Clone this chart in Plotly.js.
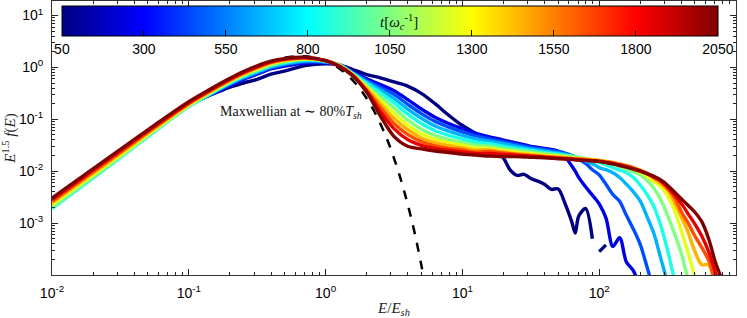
<!DOCTYPE html>
<html><head><meta charset="utf-8">
<script src="https://cdn.plot.ly/plotly-3.0.1.min.js"></script>
<style>html,body{margin:0;padding:0;background:#fff}#chart{width:747px;height:318px}</style>
</head><body><div id="chart"></div>
<script>
// ---- data ----
const times = [50, 250, 450, 650, 850, 1050, 1250, 1450, 1650, 1850, 2050];

const energy = [0.01, 0.0316, 0.0562, 0.1, 0.141, 0.2, 0.251, 0.316, 0.398, 0.5, 0.708, 1, 1.26, 1.58, 2.0, 2.51, 3.16, 3.98, 5.01, 6.31, 7.94, 10, 12.6,
  15.8, 17.8, 20, 22.4, 25.1, 28.2, 31.6, 35.5, 39.8, 44.7, 50.1, 56.2, 63.1, 66.8, 70.8, 79.4, 89.1, 94.4, 100, 112,
  126, 141, 158, 178, 200, 224, 251, 282, 316, 355, 398, 447, 501, 562, 631, 708, 794];

const f_t50 = [0.00295, 0.0257, 0.0724, 0.195, 0.288, 0.417, 0.501, 0.589, 0.741, 0.851, 1.084, 1.175, 1.122, 0.912, 0.724, 0.631, 0.525, 0.437, 0.316, 0.200, 0.120, 0.0759, 0.0525,
  0.0316, 0.0240, 0.0178, 0.0105, 0.00832, 0.00871, 0.00724, 0.00646, 0.00562, 0.00447, 0.00457, 0.00240, 0.00105, 0.000646, 0.00135, 0.00191, 0.000501, null, 0.000282, 0.000380];
const f_t250 = [0.00257, 0.0224, 0.0661, 0.186, 0.292, 0.447, 0.589, 0.741, 0.933, 1.059, 1.216, 1.230, 1.122, 0.813, 0.603, 0.468, 0.355, 0.240, 0.158, 0.110, 0.0832, 0.0661, 0.0537,
  0.0457, 0.0427, 0.0398, 0.0372, 0.0347, 0.0324, 0.0302, 0.0288, 0.0275, 0.0263, 0.0245, 0.0191, 0.0126, 0.0100, 0.00759, 0.00501, 0.00347, 0.00288, 0.00234, 0.00126,
  0.000355, 0.000525, 0.000178, 0.000120, 0.00005];
const f_t450 = [0.00234, 0.0209, 0.0631, 0.182, 0.295, 0.468, 0.617, 0.776, 0.977, 1.122, 1.274, 1.259, 1.122, 0.794, 0.562, 0.417, 0.302, 0.195, 0.129, 0.0912, 0.0708, 0.0575, 0.0479,
  0.0417, 0.0394, 0.0372, 0.0347, 0.0324, 0.0305, 0.0288, 0.0275, 0.0263, 0.0251, 0.0240, 0.0224, 0.0200, 0.0186, 0.0170, 0.0141, 0.0107, 0.00955, 0.00851, 0.00562,
  0.00355, 0.00263, 0.00141, 0.000759, 0.000380, 0.000141, 0.00005];
const f_t650 = [0.00214, 0.0195, 0.0603, 0.178, 0.298, 0.490, 0.646, 0.813, 1.023, 1.175, 1.334, 1.288, 1.122, 0.776, 0.525, 0.372, 0.251, 0.158, 0.105, 0.0741, 0.0589, 0.0490, 0.0417,
  0.0380, 0.0359, 0.0339, 0.0320, 0.0302, 0.0285, 0.0269, 0.0257, 0.0245, 0.0234, 0.0224, 0.0211, 0.0200, 0.0191, 0.0178, 0.0158, 0.0138, 0.0129, 0.0117, 0.0107,
  0.00933, 0.00759, 0.00562, 0.00398, 0.00263, 0.00132, 0.000631, 0.000209, 0.000071];
const f_t850 = [0.00191, 0.0182, 0.0582, 0.178, 0.302, 0.501, 0.668, 0.851, 1.072, 1.230, 1.396, 1.318, 1.122, 0.759, 0.490, 0.324, 0.209, 0.126, 0.0832, 0.0603, 0.0490, 0.0417, 0.0363,
  0.0339, 0.0320, 0.0302, 0.0288, 0.0275, 0.0263, 0.0251, 0.0240, 0.0229, 0.0221, 0.0214, 0.0204, 0.0195, 0.0191, 0.0184, 0.0174, 0.0162, 0.0155, 0.0148, 0.0132,
  0.0117, 0.0105, 0.00933, 0.00759, 0.00537, 0.00355, 0.00209, 0.000891, 0.000302, 0.000079];
const f_t1050 = [0.00204, 0.0191, 0.0603, 0.182, 0.313, 0.525, 0.700, 0.891, 1.122, 1.288, 1.429, 1.334, 1.096, 0.741, 0.447, 0.275, 0.166, 0.0977, 0.0646, 0.0490, 0.0407, 0.0355, 0.0316,
  0.0302, 0.0288, 0.0275, 0.0263, 0.0251, 0.0243, 0.0234, 0.0226, 0.0219, 0.0211, 0.0204, 0.0197, 0.0191, 0.0186, 0.0182, 0.0174, 0.0166, 0.0162, 0.0158, 0.0146,
  0.0135, 0.0123, 0.0110, 0.00977, 0.00851, 0.00661, 0.00468, 0.00282, 0.00141, 0.000631, 0.000263, 0.000079];
const f_t1250 = [0.00224, 0.0204, 0.0631, 0.188, 0.324, 0.543, 0.730, 0.933, 1.169, 1.334, 1.462, 1.349, 1.096, 0.724, 0.417, 0.234, 0.132, 0.0776, 0.0525, 0.0417, 0.0355, 0.0316, 0.0282,
  0.0275, 0.0263, 0.0251, 0.0243, 0.0234, 0.0226, 0.0219, 0.0211, 0.0204, 0.0200, 0.0195, 0.0188, 0.0182, 0.0180, 0.0178, 0.0174, 0.0168, 0.0166, 0.0162, 0.0153,
  0.0145, 0.0135, 0.0126, 0.0110, 0.00955, 0.00794, 0.00631, 0.00501, 0.00331, 0.00178, 0.000708, 0.000263, 0.000089];
const f_t1450 = [0.00245, 0.0219, 0.0668, 0.195, 0.335, 0.562, 0.755, 0.966, 1.211, 1.380, 1.496, 1.349, 1.072, 0.716, 0.389, 0.200, 0.105, 0.0631, 0.0437, 0.0355, 0.0309, 0.0282, 0.0257,
  0.0257, 0.0245, 0.0234, 0.0226, 0.0219, 0.0214, 0.0209, 0.0202, 0.0195, 0.0191, 0.0186, 0.0182, 0.0178, 0.0176, 0.0174, 0.0170, 0.0166, 0.0164, 0.0162, 0.0155,
  0.0148, 0.0138, 0.0129, 0.0117, 0.0105, 0.00891, 0.00724, 0.00575, 0.00437, 0.00251, 0.00132, 0.000661, 0.000282, 0.000158, 0.000158, 0.00004];
const f_t1650 = [0.00263, 0.0234, 0.0700, 0.202, 0.345, 0.575, 0.776, 1.0, 1.245, 1.413, 1.531, 1.349, 1.072, 0.708, 0.363, 0.170, 0.0832, 0.0513, 0.0372, 0.0309, 0.0275, 0.0257, 0.0234,
  0.0240, 0.0232, 0.0224, 0.0216, 0.0209, 0.0204, 0.0200, 0.0195, 0.0191, 0.0186, 0.0182, 0.0178, 0.0174, 0.0172, 0.0170, 0.0166, 0.0162, 0.0160, 0.0158, 0.0151,
  0.0145, 0.0135, 0.0126, 0.0115, 0.0102, 0.00891, 0.00759, 0.00631, 0.00468, 0.00316, 0.00166, 0.00100, 0.000562, 0.000339, 0.000191, 0.000071];
const f_t1850 = [0.00282, 0.0248, 0.0738, 0.209, 0.356, 0.596, 0.804, 1.035, 1.282, 1.445, 1.549, 1.349, 1.059, 0.700, 0.347, 0.141, 0.0661, 0.0407, 0.0316, 0.0275, 0.0251, 0.0234, 0.0219,
  0.0221, 0.0216, 0.0211, 0.0207, 0.0202, 0.0200, 0.0195, 0.0191, 0.0186, 0.0182, 0.0178, 0.0174, 0.0170, 0.0168, 0.0166, 0.0162, 0.0158, 0.0157, 0.0155, 0.0148,
  0.0141, 0.0132, 0.0123, 0.0112, 0.0102, 0.00912, 0.00776, 0.00661, 0.00501, 0.00355, 0.00240, 0.00151, 0.000955, 0.000562, 0.000282, 0.000112, 0.00005];
const f_t2050 = [0.00302, 0.0263, 0.0776, 0.219, 0.372, 0.617, 0.832, 1.072, 1.318, 1.479, 1.567, 1.349, 1.047, 0.692, 0.331, 0.117, 0.0468, 0.0302, 0.0269, 0.0245, 0.0229, 0.0214, 0.0204,
  0.0195, 0.0193, 0.0191, 0.0191, 0.0191, 0.0188, 0.0186, 0.0184, 0.0182, 0.0178, 0.0174, 0.0172, 0.0170, 0.0166, 0.0164, 0.0162, 0.0158, 0.0157, 0.0155, 0.0146,
  0.0138, 0.0129, 0.0120, 0.0110, 0.0100, 0.00891, 0.00794, 0.00676, 0.00537, 0.00398, 0.00295, 0.00219, 0.00162, 0.00107, 0.000501, 0.000174, 0.000079];

// dashed Maxwellian (~80% T_sh)
const maxwE = [0.5, 0.7, 1.0, 1.25, 1.5, 1.75, 2.0, 2.25, 2.5, 2.75, 3.0, 3.5, 4.0, 4.5, 5.0, 5.3];
const maxwF = [1.54, 1.64, 1.34, 0.97, 0.65, 0.413, 0.25, 0.148, 0.085, 0.048, 0.0265, 0.0078, 0.0022, 0.00061, 0.00016, 0.000073];

const xTickVals = [0.01, 0.1, 1, 10, 100, 1000];
const xTickText = ['10<sup>-2</sup>', '10<sup>-1</sup>', '10<sup>0</sup>', '10<sup>1</sup>', '10<sup>2</sup>', '10<sup>3</sup>'];
const yTickVals = [0.001, 0.01, 0.1, 1, 10];
const yTickText = ['10<sup>-3</sup>', '10<sup>-2</sup>', '10<sup>-1</sup>', '10<sup>0</sup>', '10<sup>1</sup>'];
const cbTickVals = [50, 300, 550, 800, 1050, 1300, 1550, 1800, 2050];

// ---- styling ----
const series = [f_t50, f_t250, f_t450, f_t650, f_t850, f_t1050, f_t1250, f_t1450, f_t1650, f_t1850, f_t2050];
const lineColors = ['rgb(0,0,128)', 'rgb(0,0,230)', 'rgb(0,77,255)', 'rgb(0,179,255)', 'rgb(26,255,230)', 'rgb(128,255,128)',
  'rgb(230,255,26)', 'rgb(255,179,0)', 'rgb(255,77,0)', 'rgb(230,0,0)', 'rgb(128,0,0)'];
const jet = [[0, 'rgb(0,0,128)'], [0.125, 'rgb(0,0,255)'], [0.375, 'rgb(0,255,255)'], [0.625, 'rgb(255,255,0)'], [0.875, 'rgb(255,0,0)'], [1, 'rgb(128,0,0)']];

function minorTicks(d0, d1, maxV) {
  const out = [];
  for (let d = d0; d <= d1; d++) for (let k = 2; k <= 9; k++) { const v = k * Math.pow(10, d); if (v <= maxV) out.push(v); }
  return out;
}

const traces = [];
traces.push({x: maxwE, y: maxwF, mode: 'lines', line: {color: '#000', width: 2.5, dash: 'dash', shape: 'spline'}, showlegend: false, hoverinfo: 'skip'});
series.forEach((f, i) => traces.push({
  x: energy, y: f, mode: 'lines', name: 't=' + times[i], connectgaps: false,
  line: {color: lineColors[i], width: 3.4, shape: 'spline', smoothing: 0.9}, showlegend: false
}));
traces.push({
  x: times.map(() => null), y: times.map(() => null), mode: 'markers', showlegend: false, hoverinfo: 'skip',
  marker: {color: times, cmin: 50, cmax: 2050, colorscale: jet, showscale: true,
    colorbar: {orientation: 'h', x: 0.494, xanchor: 'center', y: 0.982, yanchor: 'top', len: 0.959, lenmode: 'fraction',
      thickness: 30, thicknessmode: 'pixels', xpad: 0, ypad: 0, outlinewidth: 1, outlinecolor: '#000',
      tickmode: 'array', tickvals: cbTickVals, ticktext: cbTickVals.map(String), ticks: 'inside', ticklen: 6, tickcolor: '#000',
      tickfont: {family: 'Liberation Sans, Arial, sans-serif', size: 14, color: '#000'}}}
});

const axisCommon = {
  type: 'log', ticks: 'inside', ticklen: 6, tickwidth: 1, tickcolor: '#222', showline: true, linecolor: '#333', linewidth: 1,
  mirror: 'ticks', showgrid: false, zeroline: false, tickmode: 'array',
  tickfont: {family: 'Liberation Sans, Arial, sans-serif', size: 14, color: '#000'}
};

const layout = {
  width: 747, height: 318,
  margin: {l: 52, r: 11, t: 1, b: 43},
  paper_bgcolor: '#fff', plot_bgcolor: '#fff',
  font: {family: 'Liberation Sans, Arial, sans-serif', size: 14, color: '#000'},
  xaxis: Object.assign({}, axisCommon, {
    range: [-2, 3], tickvals: xTickVals, ticktext: xTickText, ticklabelstandoff: 5,
    minor: {tickmode: 'array', tickvals: minorTicks(-2, 2, 1000), ticks: 'inside', ticklen: 3, tickcolor: '#222', showgrid: false},
    title: {text: '<i>E</i>/<i>E</i><sub><i>sh</i></sub>', font: {family: 'Liberation Serif, serif', size: 15, color: '#222'}, standoff: 7}
  }),
  yaxis: Object.assign({}, axisCommon, {
    range: [-4, 1.28], tickvals: yTickVals, ticktext: yTickText, ticklabelstandoff: 5,
    minor: {tickmode: 'array', tickvals: minorTicks(-4, 1, 19), ticks: 'inside', ticklen: 3, tickcolor: '#222', showgrid: false},
    title: {text: '<i>E</i><sup>1.5</sup> <i>f</i>(<i>E</i>)', font: {family: 'Liberation Serif, serif', size: 15, color: '#222'}, standoff: 4}
  }),
  annotations: [
    {xref: 'paper', yref: 'paper', x: 0.349, y: 0.593, showarrow: false, xanchor: 'center', yanchor: 'middle',
      text: 'Maxwellian at ∼ 80%<i>T</i><sub><i>sh</i></sub>', font: {family: 'Liberation Serif, serif', size: 14, color: '#111'}},
    {xref: 'paper', yref: 'paper', x: 0.508, y: 0.925, showarrow: false, xanchor: 'center', yanchor: 'middle',
      text: '<i>t</i>[<i>ω</i><sub><i>c</i></sub><sup>-1</sup>]', font: {family: 'Liberation Serif, serif', size: 15, color: '#111'}}
  ]
};

Plotly.newPlot('chart', traces, layout, {staticPlot: true, displayModeBar: false});
</script>
</body></html>
